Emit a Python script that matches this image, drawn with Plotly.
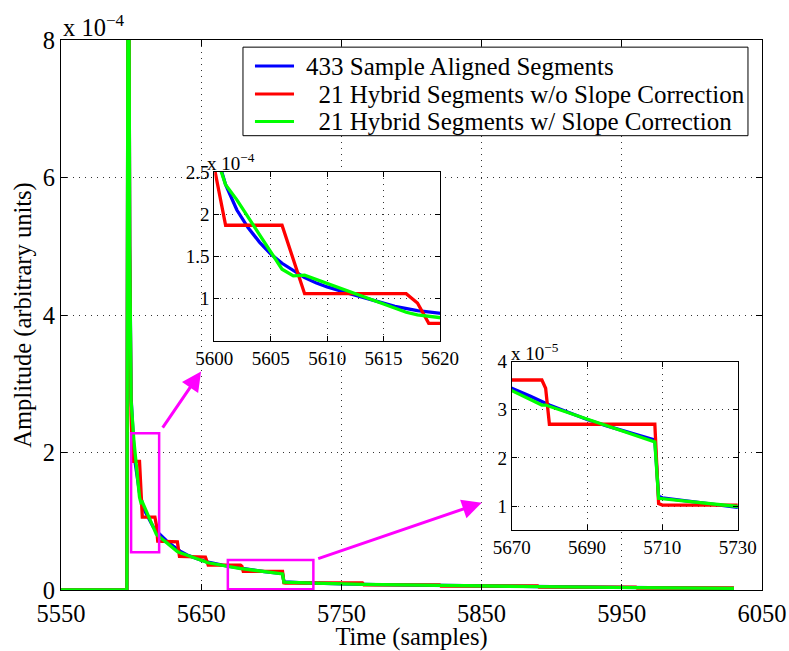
import plotly.graph_objects as go

# ---------------- data (amplitudes in units of 1e-4) ----------------
blue_t = [5550, 5597, 5598, 5599, 5600, 5601, 5602, 5603, 5604, 5605, 5606, 5607, 5608, 5609,
          5610, 5612, 5614, 5616, 5618, 5620, 5625, 5630, 5635, 5640, 5645, 5650, 5655, 5660,
          5665, 5670, 5675, 5680, 5685, 5690, 5695, 5700, 5705, 5708, 5709, 5710, 5720, 5730,
          5750, 5775, 5800, 5850, 5900, 5950, 6000, 6030]
blue_a = [0, 0, 12.0, 5.0, 2.8, 2.35, 2.05, 1.84, 1.67, 1.53, 1.42, 1.33, 1.25, 1.19,
          1.14, 1.06, 0.98, 0.91, 0.86, 0.82, 0.72, 0.64, 0.565, 0.51, 0.47, 0.435, 0.405, 0.38,
          0.362, 0.345, 0.328, 0.31, 0.295, 0.28, 0.267, 0.255, 0.243, 0.237, 0.120, 0.117, 0.107, 0.097,
          0.088, 0.079, 0.071, 0.058, 0.047, 0.037, 0.029, 0.024]

red_t = [5550, 5597, 5598, 5599, 5600, 5601, 5606, 5608, 5617, 5618, 5619, 5633, 5634.5, 5653,
         5655, 5678, 5679, 5680, 5708, 5709, 5710, 5765, 5766, 5820, 5821, 5890, 5891, 5960,
         5961, 6030]
red_a = [0, 0, 12.0, 5.0, 2.55, 1.87, 1.87, 1.06, 1.06, 0.95, 0.71, 0.70, 0.49, 0.48,
         0.362, 0.362, 0.345, 0.27, 0.27, 0.105, 0.102, 0.102, 0.076, 0.076, 0.058, 0.058, 0.042, 0.042,
         0.029, 0.029]

green_t = [5550, 5597, 5598, 5599, 5600, 5601, 5602, 5606, 5607, 5608, 5617, 5618, 5633, 5634,
           5653, 5654, 5678, 5679, 5708, 5709, 5730, 5765, 5766, 5820, 5821, 5890, 5891, 5960,
           5961, 6030]
green_a = [0, 0, 12.0, 5.0, 2.75, 2.35, 2.17, 1.35, 1.27, 1.28, 0.84, 0.81, 0.56, 0.55,
           0.41, 0.40, 0.31, 0.31, 0.233, 0.116, 0.099, 0.082, 0.082, 0.068, 0.068, 0.049, 0.049, 0.035,
           0.035, 0.024]

names = ["433 Sample Aligned Segments",
         "\u00a0\u00a021 Hybrid Segments w/o Slope Correction",
         "\u00a0\u00a021 Hybrid Segments w/ Slope Correction"]
colors = ["#0000FF", "#FF0000", "#00FF00"]

main_xticks = [5550, 5650, 5750, 5850, 5950, 6050]
main_yticks = [0, 2, 4, 6, 8]
in1_xticks = [5600, 5605, 5610, 5615, 5620]
in1_yticks = [1, 1.5, 2, 2.5]
in2_xticks = [5670, 5690, 5710, 5730]
in2_yticks = [0.1, 0.2, 0.3, 0.4]
in2_yticklabels = ["1", "2", "3", "4"]

zoom1 = dict(x0=5600, x1=5620, y0=0.55, y1=2.28)
zoom2 = dict(x0=5669, x1=5730, y0=0.01, y1=0.435)

FONT = "Liberation Serif"
MAGENTA = "#FF00FF"
series = [(blue_t, blue_a), (red_t, red_a), (green_t, green_a)]

fig = go.Figure()
for axs in [("x", "y"), ("x2", "y2"), ("x3", "y3")]:
    for (t, a), nm, c in zip(series, names, colors):
        fig.add_trace(go.Scatter(x=t, y=a, mode="lines", name=nm, showlegend=False,
                                 line=dict(color=c, width=3.3), xaxis=axs[0], yaxis=axs[1],
                                 hoverinfo="skip"))

axis_common = dict(showline=True, linecolor="black", linewidth=1, mirror="ticks",
                   ticks="inside", ticklen=6, tickcolor="black", showgrid=True,
                   gridcolor="#333333", griddash="1px,5px", gridwidth=1, zeroline=False,
                   automargin=False,
                   tickfont=dict(family=FONT, size=24.5, color="black"))

in1_dom_x = [0.2187, 0.5407]
in1_dom_y = [0.4527, 0.76]
in2_dom_x = [0.643, 0.9653]
in2_dom_y = [0.109, 0.415]

inset_common = dict(axis_common)
inset_common["tickfont"] = dict(family=FONT, size=19, color="black")
inset_common["ticklen"] = 5

fig.update_layout(
    width=789, height=651,
    margin=dict(l=61, r=27, t=40, b=61, autoexpand=False),
    paper_bgcolor="white", plot_bgcolor="white",
    font=dict(family=FONT, size=24.5, color="black"),
    xaxis=dict(axis_common, range=[5550, 6050], tickvals=main_xticks, ticklabelstandoff=2,
               title=dict(text="Time (samples)", font=dict(family=FONT, size=24.5), standoff=5)),
    yaxis=dict(axis_common, range=[0, 8], tickvals=main_yticks,
               title=dict(text="Amplitude (arbitrary units)", font=dict(family=FONT, size=24.5), standoff=4)),
    xaxis2=dict(inset_common, domain=in1_dom_x, anchor="y2", range=[5600, 5620], tickvals=in1_xticks),
    yaxis2=dict(inset_common, domain=in1_dom_y, anchor="x2", range=[0.5, 2.5], tickvals=in1_yticks),
    xaxis3=dict(inset_common, domain=in2_dom_x, anchor="y3", range=[5670, 5730], tickvals=in2_xticks),
    yaxis3=dict(inset_common, domain=in2_dom_y, anchor="x3", range=[0.05, 0.4], tickvals=in2_yticks,
                ticktext=in2_yticklabels),
    showlegend=False,
)

# legend geometry (paper coordinates)
leg_box = dict(x0=0.2596, x1=0.980, y0=0.826, y1=0.987)
leg_line_x = (0.2767, 0.3324)
leg_rows_y = [0.9527, 0.9018, 0.852]
leg_text_x = 0.347

shapes = [
    # white backgrounds for insets
    dict(type="rect", xref="x2 domain", yref="y2 domain", x0=0, x1=1, y0=0, y1=1,
         fillcolor="white", line=dict(width=0), layer="below"),
    dict(type="rect", xref="x3 domain", yref="y3 domain", x0=0, x1=1, y0=0, y1=1,
         fillcolor="white", line=dict(width=0), layer="below"),
    # magenta zoom boxes
    dict(type="rect", xref="x", yref="y", line=dict(color=MAGENTA, width=2.5), **zoom1),
    dict(type="rect", xref="x", yref="y", line=dict(color=MAGENTA, width=2.5), **zoom2),
    # legend box
    dict(type="rect", xref="paper", yref="paper", fillcolor="white",
         line=dict(color="black", width=1), layer="above", **leg_box),
]
for ry, c in zip(leg_rows_y, colors):
    shapes.append(dict(type="line", xref="paper", yref="paper", x0=leg_line_x[0], x1=leg_line_x[1],
                       y0=ry, y1=ry, line=dict(color=c, width=3), layer="above"))
fig.update_layout(shapes=shapes)

arrows = [
    dict(tail=(5621.8, 2.34), tip=(5649.9, 3.18)),
    dict(tail=(5732.4, 0.45), tip=(5850.1, 1.27)),
]
annotations = []
for ar in arrows:
    annotations.append(dict(x=ar["tip"][0], y=ar["tip"][1], ax=ar["tail"][0], ay=ar["tail"][1],
                            xref="x", yref="y", axref="x", ayref="y", text="", showarrow=True,
                            arrowhead=2, arrowsize=1.3, arrowwidth=3, arrowcolor=MAGENTA,
                            standoff=0, startstandoff=0))
for ry, nm in zip(leg_rows_y, names):
    annotations.append(dict(text=nm, xref="paper", yref="paper", x=leg_text_x, y=ry,
                            xanchor="left", yanchor="middle", showarrow=False,
                            font=dict(family=FONT, size=25, color="black")))
annotations += [
    dict(text="x 10<sup>−4</sup>", xref="paper", yref="paper", x=0.0, y=1.0, xanchor="left",
         yanchor="bottom", showarrow=False, font=dict(family=FONT, size=24.5), yshift=-3),
    dict(text="x 10<sup>−4</sup>", xref="x2 domain", yref="y2 domain", x=-0.04, y=1.0, xanchor="left",
         yanchor="bottom", showarrow=False, font=dict(family=FONT, size=19), yshift=-4),
    dict(text="x 10<sup>−5</sup>", xref="x3 domain", yref="y3 domain", x=-0.01, y=1.0, xanchor="left",
         yanchor="bottom", showarrow=False, font=dict(family=FONT, size=19), yshift=-4),
]
fig.update_layout(annotations=annotations)

fig.write_html("out.html")
